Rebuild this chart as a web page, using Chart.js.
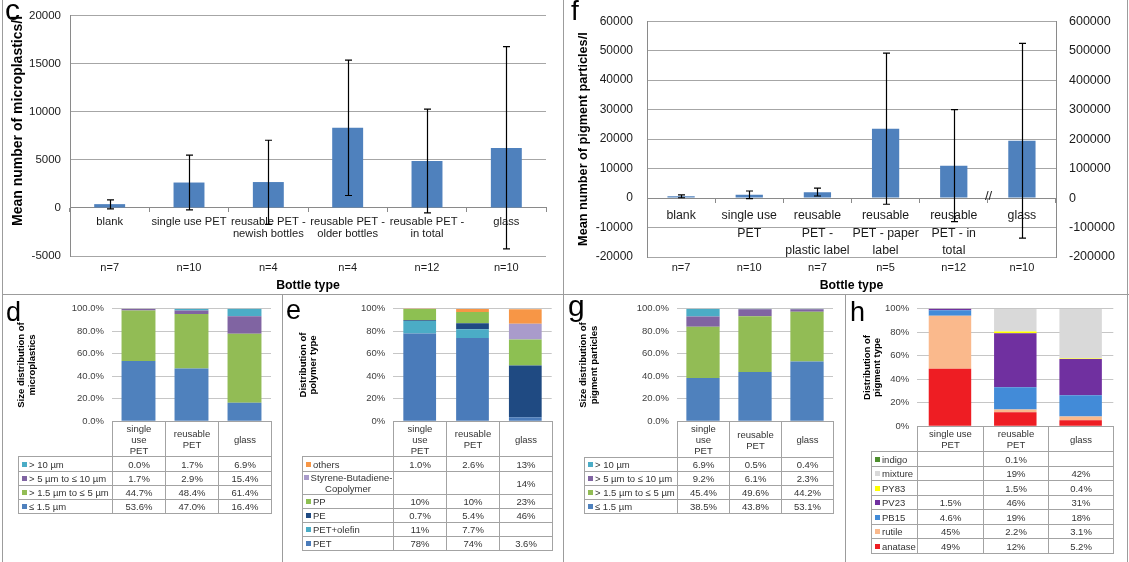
<!DOCTYPE html>
<html><head><meta charset="utf-8">
<script src="https://cdn.jsdelivr.net/npm/chart.js@4.4.1/dist/chart.umd.min.js"></script>
<style>
html,body{margin:0;padding:0;background:#fff;}
body{width:1129px;height:562px;position:relative;overflow:hidden;font-family:"Liberation Sans",Arial,sans-serif;}
canvas{position:absolute;}
.letter{position:absolute;color:#000;line-height:1;font-family:"Liberation Sans",Arial,sans-serif;white-space:nowrap;}
.vl{position:absolute;width:1px;background:#9c9c9c;}
.hl{position:absolute;height:1px;background:#9c9c9c;}
.cell{position:absolute;box-sizing:border-box;border:1px solid #a3a3a3;display:flex;flex-direction:column;justify-content:center;align-items:center;font-size:9.5px;line-height:11px;color:#333;white-space:nowrap;text-align:center;}
.cell.leg{align-items:flex-start;padding-left:3px;text-align:left;}
.cell.legc{align-items:center;text-align:center;}
.key{display:inline-block;width:5px;height:5px;margin-right:2px;position:relative;top:-1px;}
.brk{position:absolute;font-size:13px;color:#222;}
</style></head><body>

<canvas id="cC" width="563" height="293" style="left:0;top:0"></canvas>
<canvas id="cF" width="566" height="293" style="left:563px;top:0"></canvas>
<canvas id="cD" width="278" height="140" style="left:3px;top:295px"></canvas>
<canvas id="cE" width="278" height="140" style="left:284px;top:295px"></canvas>
<canvas id="cG" width="279" height="140" style="left:565px;top:295px"></canvas>
<canvas id="cH" width="280" height="145" style="left:847px;top:295px"></canvas>

<div class="vl" style="left:2px;top:0;height:562px"></div>
<div class="vl" style="left:563px;top:0;height:562px"></div>
<div class="vl" style="left:282px;top:294px;height:268px"></div>
<div class="vl" style="left:845px;top:294px;height:268px"></div>
<div class="vl" style="left:1127px;top:0;height:562px"></div>
<div class="hl" style="left:2px;top:294px;width:1127px"></div>

<div class="letter" style="left:5px;top:-5px;font-size:30px">c</div>
<div class="letter" style="left:571px;top:-3px;font-size:28px">f</div>
<div class="letter" style="left:6px;top:299px;font-size:27px">d</div>
<div class="letter" style="left:286px;top:297px;font-size:27px">e</div>
<div class="letter" style="left:568px;top:291px;font-size:30px">g</div>
<div class="letter" style="left:850px;top:299px;font-size:27px">h</div>
<div class="brk" style="left:985px;top:188px">//</div>

<script>
// ---------- Panel c ----------
const catsC = [['blank'], ['single use PET'], ['reusable PET -', 'newish bottles'], ['reusable PET -', 'older bottles'], ['reusable PET -', 'in total'], ['glass']];
const nC = ['n=7', 'n=10', 'n=4', 'n=4', 'n=12', 'n=10'];
const meanC = [400, 2650, 2700, 8350, 4900, 6250];
const lowC = [-100, -200, -1700, 1300, -500, -4250];
const highC = [850, 5500, 7050, 15400, 10300, 16800];
const yTicksC = [-5000, 0, 5000, 10000, 15000, 20000];

// ---------- Panel f ----------
const catsF = [['blank'], ['single use', 'PET'], ['reusable', 'PET -', 'plastic label'], ['reusable', 'PET - paper', 'label'], ['reusable', 'PET - in', 'total'], ['glass']];
const nF = ['n=7', 'n=10', 'n=7', 'n=5', 'n=12', 'n=10'];
const meanF = [600, 1100, 2000, 23500, 11000, null];
const lowF = [100, -200, 700, -2100, -8000, null];
const highF = [1100, 2400, 3400, 49200, 30000, null];
const meanFGlass = [null, null, null, null, null, 194000];
const lowFGlass = [null, null, null, null, null, -136000];
const highFGlass = [null, null, null, null, null, 525000];
const yTicksF = [-20000, -10000, 0, 10000, 20000, 30000, 40000, 50000, 60000];
const y2TicksF = [-200000, -100000, 0, 100000, 200000, 300000, 400000, 500000, 600000];

// ---------- Bottom panels ----------
const yTicksPct = [0, 20, 40, 60, 80, 100];

const catsD = [['single', 'use', 'PET'], ['reusable', 'PET'], ['glass']];
const seriesD = [['> 10 µm'], ['> 5 µm to ≤ 10 µm'], ['> 1.5 µm to ≤ 5 µm'], ['≤ 1.5 µm']];
const dGt10 = [0.0, 1.7, 6.9];
const d5to10 = [1.7, 2.9, 15.4];
const d15to5 = [44.7, 48.4, 61.4];
const dLe15 = [53.6, 47.0, 16.4];

const catsE = [['single', 'use', 'PET'], ['reusable', 'PET'], ['glass']];
const seriesE = [['others'], ['Styrene-Butadiene-', 'Copolymer'], ['PP'], ['PE'], ['PET+olefin'], ['PET']];
const eOthers = [1.0, 2.6, 13];
const eSBC = [null, null, 14];
const ePP = [10, 10, 23];
const ePE = [0.7, 5.4, 46];
const ePETolefin = [11, 7.7, null];
const ePET = [78, 74, 3.6];

const catsG = [['single', 'use', 'PET'], ['reusable', 'PET'], ['glass']];
const seriesG = [['> 10 µm'], ['> 5 µm to ≤ 10 µm'], ['> 1.5 µm to ≤ 5 µm'], ['≤ 1.5 µm']];
const gGt10 = [6.9, 0.5, 0.4];
const g5to10 = [9.2, 6.1, 2.3];
const g15to5 = [45.4, 49.6, 44.2];
const gLe15 = [38.5, 43.8, 53.1];

const catsH = [['single use', 'PET'], ['reusable', 'PET'], ['glass']];
const seriesH = [['indigo'], ['mixture'], ['PY83'], ['PV23'], ['PB15'], ['rutile'], ['anatase']];
const hIndigo = [null, 0.1, null];
const hMixture = [null, 19, 42];
const hPY83 = [null, 1.5, 0.4];
const hPV23 = [1.5, 46, 31];
const hPB15 = [4.6, 19, 18];
const hRutile = [45, 2.2, 3.1];
const hAnatase = [49, 12, 5.2];

// ---------- Styles ----------
const FONT = '"Liberation Sans", Arial, sans-serif';
Chart.defaults.font.family = FONT;
Chart.defaults.color = '#1a1a1a';
const BAR = '#4F81BD';
const colorsD = ['#4BACC6', '#8064A2', '#92BC55', '#4F81BD'];
const colorsE = ['#F79646', '#A99BCB', '#8DC052', '#1F4A82', '#4BACC6', '#4A7BBA'];
const colorsG = ['#4BACC6', '#8064A2', '#92BC55', '#4F81BD'];
const colorsH = ['#4E8F2E', '#D9D9D9', '#FFFF00', '#7030A0', '#428BD8', '#FAB98C', '#EE1D23'];

const plainNum = v => String(v);

const errorBars = {
  id: 'errorBars',
  afterDatasetsDraw(chart) {
    const ctx = chart.ctx;
    chart.data.datasets.forEach((ds, di) => {
      if (!ds.errLow) return;
      const meta = chart.getDatasetMeta(di);
      const ys = chart.scales[ds.yAxisID || 'y'];
      ctx.save();
      ctx.strokeStyle = '#000';
      ctx.lineWidth = 1.2;
      meta.data.forEach((bar, i) => {
        if (ds.data[i] == null || ds.errLow[i] == null) return;
        const x = Math.round(bar.x) + 0.5;
        const y1 = ys.getPixelForValue(ds.errLow[i]);
        const y2 = ys.getPixelForValue(ds.errHigh[i]);
        ctx.beginPath();
        ctx.moveTo(x, y1); ctx.lineTo(x, y2);
        ctx.moveTo(x - 3.5, y1); ctx.lineTo(x + 3.5, y1);
        ctx.moveTo(x - 3.5, y2); ctx.lineTo(x + 3.5, y2);
        ctx.stroke();
      });
      ctx.restore();
    });
  }
};

function fixedTicks(arr) {
  return s => { s.ticks = arr.map(v => ({value: v})); };
}

// ---------- Chart c ----------
new Chart(document.getElementById('cC'), {
  type: 'bar',
  data: {
    labels: catsC,
    datasets: [{data: meanC, errLow: lowC, errHigh: highC, backgroundColor: BAR, barPercentage: 0.39, categoryPercentage: 1}]
  },
  options: {
    responsive: false, animation: false,
    layout: {padding: {left: 0, right: 17, top: 7, bottom: 0}},
    plugins: {legend: {display: false}, tooltip: {enabled: false}},
    scales: {
      x: {
        type: 'category', position: {y: 0}, offset: true,
        grid: {offset: true, drawOnChartArea: false, drawTicks: true, tickLength: 4, color: '#8a8a8a'},
        border: {display: true, color: '#8a8a8a'},
        ticks: {autoSkip: false, maxRotation: 0, padding: 3.6, color: '#1a1a1a', font: {size: 11.2, lineHeight: 1.1}}
      },
      xn: {
        type: 'category', labels: nC, position: 'bottom', offset: true,
        grid: {display: false, drawTicks: false}, border: {display: false},
        ticks: {autoSkip: false, maxRotation: 0, padding: 5.7, color: '#1a1a1a', font: {size: 11}},
        title: {display: true, text: 'Bottle type', color: '#000', font: {size: 12.3, weight: 'bold'}, padding: {top: 0, bottom: 0}},
        afterFit: s => { s.height = 37; }
      },
      y: {
        min: yTicksC[0], max: yTicksC[yTicksC.length - 1],
        afterBuildTicks: fixedTicks(yTicksC),
        grid: {color: '#a6a6a6', drawTicks: false},
        border: {display: true, color: '#8a8a8a'},
        ticks: {padding: 9, color: '#1a1a1a', font: {size: 11.5}, callback: plainNum},
        title: {display: true, text: 'Mean number of microplastics/l', align: 'end', color: '#000', font: {size: 14, weight: 'bold'}, padding: {top: 9.6, bottom: 0}},
        afterFit: s => { s.width = 70; }
      }
    }
  },
  plugins: [errorBars]
});

// ---------- Chart f ----------
new Chart(document.getElementById('cF'), {
  type: 'bar',
  data: {
    labels: catsF,
    datasets: [
      {data: meanF, errLow: lowF, errHigh: highF, yAxisID: 'y', backgroundColor: BAR, barPercentage: 0.4, categoryPercentage: 1, grouped: false},
      {data: meanFGlass, errLow: lowFGlass, errHigh: highFGlass, yAxisID: 'y2', backgroundColor: BAR, barPercentage: 0.4, categoryPercentage: 1, grouped: false}
    ]
  },
  options: {
    responsive: false, animation: false,
    layout: {padding: {left: 0, right: 0, top: 9, bottom: 0}},
    plugins: {legend: {display: false}, tooltip: {enabled: false}},
    scales: {
      x: {
        type: 'category', position: {y: 0}, offset: true,
        grid: {offset: true, drawOnChartArea: false, drawTicks: true, tickLength: 4, color: '#8a8a8a'},
        border: {display: true, color: '#8a8a8a'},
        ticks: {autoSkip: false, maxRotation: 0, padding: 5.4, color: '#1a1a1a', font: {size: 12.3, lineHeight: 1.4}}
      },
      xn: {
        type: 'category', labels: nF, position: 'bottom', offset: true,
        grid: {display: false, drawTicks: false}, border: {display: false},
        ticks: {autoSkip: false, maxRotation: 0, padding: 4.4, color: '#1a1a1a', font: {size: 11}},
        title: {display: true, text: 'Bottle type', color: '#000', font: {size: 12.3, weight: 'bold'}, padding: {top: 0, bottom: 0}},
        afterFit: s => { s.height = 36; }
      },
      y: {
        position: 'left',
        min: yTicksF[0], max: yTicksF[yTicksF.length - 1],
        afterBuildTicks: fixedTicks(yTicksF),
        grid: {color: '#a6a6a6', drawTicks: false},
        border: {display: true, color: '#8a8a8a'},
        ticks: {padding: 14, color: '#1a1a1a', font: {size: 12}, callback: plainNum},
        title: {display: true, text: 'Mean number of pigment particles/l', color: '#000', font: {size: 12.7, weight: 'bold'}, padding: {top: 12.4, bottom: 0}},
        afterFit: s => { s.width = 84; }
      },
      y2: {
        position: 'right',
        min: y2TicksF[0], max: y2TicksF[y2TicksF.length - 1],
        afterBuildTicks: fixedTicks(y2TicksF),
        grid: {drawOnChartArea: false, drawTicks: false},
        border: {display: true, color: '#8a8a8a'},
        ticks: {padding: 13, color: '#1a1a1a', font: {size: 12.5}, callback: plainNum},
        afterFit: s => { s.width = 73; }
      }
    }
  },
  plugins: [errorBars]
});

// ---------- Stacked panels with data tables ----------
function stackPanel(cfg) {
  const datasets = [];
  for (let i = cfg.series.length - 1; i >= 0; i--) {
    datasets.push({
      label: cfg.series[i].join(' '), data: cfg.values[i], backgroundColor: cfg.colors[i],
      barPercentage: cfg.bar, categoryPercentage: 1, borderWidth: 0
    });
  }
  const canvas = document.getElementById(cfg.id);
  const chart = new Chart(canvas, {
    type: 'bar',
    data: {labels: cfg.cats.map(c => c.join(' ')), datasets},
    options: {
      responsive: false, animation: false,
      layout: {padding: {left: 0, right: cfg.R, top: cfg.T, bottom: cfg.B}},
      plugins: {legend: {display: false}, tooltip: {enabled: false}},
      scales: {
        x: {display: false, stacked: true},
        y: {
          stacked: true, min: yTicksPct[0], max: yTicksPct[yTicksPct.length - 1],
          afterBuildTicks: fixedTicks(yTicksPct),
          grid: {color: '#c6c6c6', drawTicks: false},
          border: {display: false},
          ticks: {padding: 8, color: '#404040', font: {size: 9.5}, callback: cfg.tickFmt},
          title: {display: true, text: cfg.title, color: '#000', font: {size: 9.5, weight: 'bold', lineHeight: 1.1}, padding: {top: cfg.pt, bottom: 0}},
          afterFit: s => { s.width = cfg.W; }
        }
      }
    }
  });
  // data table aligned with the chart's category columns
  const ca = chart.chartArea;
  const cl = parseFloat(canvas.style.left), ct = parseFloat(canvas.style.top);
  const x0 = cl + ca.left, x1 = cl + ca.right;
  const colW = (x1 - x0) / cfg.cats.length;
  let y = ct + ca.bottom;
  const mk = (x, yy, w, h, cls) => {
    const d = document.createElement('div');
    d.className = 'cell' + (cls ? ' ' + cls : '');
    const L = Math.round(x), T = Math.round(yy);
    d.style.left = L + 'px'; d.style.top = T + 'px';
    d.style.width = (Math.round(x + w) - L + 1) + 'px';
    d.style.height = (Math.round(yy + h) - T + 1) + 'px';
    document.body.appendChild(d);
    return d;
  };
  const addLines = (el, lines) => {
    const inner = document.createElement('div');
    lines.forEach((ln, k) => {
      if (k) inner.appendChild(document.createElement('br'));
      inner.appendChild(document.createTextNode(ln));
    });
    el.appendChild(inner);
    return inner;
  };
  cfg.cats.forEach((c, j) => { addLines(mk(x0 + j * colW, y, colW, cfg.headerH), c); });
  y += cfg.headerH;
  cfg.series.forEach((s, i) => {
    const h = cfg.rowHs[i];
    const lc = mk(cfg.tableLeft, y, x0 - cfg.tableLeft, h, s.length > 1 ? 'legc' : 'leg');
    const inner = document.createElement('div');
    const key = document.createElement('span');
    key.className = 'key'; key.style.background = cfg.colors[i];
    inner.appendChild(key);
    s.forEach((ln, k) => {
      if (k) inner.appendChild(document.createElement('br'));
      inner.appendChild(document.createTextNode(ln));
    });
    lc.appendChild(inner);
    cfg.values[i].forEach((v, j) => {
      const vc = mk(x0 + j * colW, y, colW, h);
      if (v != null) addLines(vc, [cfg.valFmt(v)]);
    });
    y += h;
  });
  return chart;
}

const fmt1 = v => v.toFixed(1) + '%';
const fmt2sig = v => (v >= 10 ? Math.round(v) : v.toFixed(1)) + '%';

stackPanel({
  id: 'cD', cats: catsD, series: seriesD, values: [dGt10, d5to10, d15to5, dLe15], colors: colorsD,
  bar: 0.64, W: 109, R: 10, T: 12, B: 7, pt: 13.5,
  title: ['Size distribution of', 'microplastics'],
  tickFmt: v => v.toFixed(1) + '%', valFmt: fmt1,
  tableLeft: 18, headerH: 35, rowHs: [14.25, 14.25, 14.25, 14.25]
});
stackPanel({
  id: 'cE', cats: catsE, series: seriesE, values: [eOthers, eSBC, ePP, ePE, ePETolefin, ePET], colors: colorsE,
  bar: 0.62, W: 109.3, R: 10.3, T: 12, B: 13.3, pt: 14.1,
  title: ['Distribution of', 'polymer type'],
  tickFmt: v => v + '%', valFmt: fmt2sig,
  tableLeft: 302, headerH: 35, rowHs: [14.2, 23, 14.2, 14.2, 14.2, 14.2]
});
stackPanel({
  id: 'cG', cats: catsG, series: seriesG, values: [gGt10, g5to10, g15to5, gLe15], colors: colorsG,
  bar: 0.64, W: 112, R: 11, T: 12, B: 7, pt: 13.5,
  title: ['Size distribution of', 'pigment particles'],
  tickFmt: v => v.toFixed(1) + '%', valFmt: fmt1,
  tableLeft: 584, headerH: 36, rowHs: [14, 14, 14, 14]
});
stackPanel({
  id: 'cH', cats: catsH, series: seriesH, values: [hIndigo, hMixture, hPY83, hPV23, hPB15, hRutile, hAnatase], colors: colorsH,
  bar: 0.65, W: 70.3, R: 13.7, T: 11.7, B: 8.3, pt: 15.1,
  title: ['Distribution of', 'pigment type'],
  tickFmt: v => v + '%', valFmt: fmt2sig,
  tableLeft: 871, headerH: 25, rowHs: [14.5, 14.5, 14.5, 14.5, 14.5, 14.5, 14.5]
});
</script>
</body></html>
